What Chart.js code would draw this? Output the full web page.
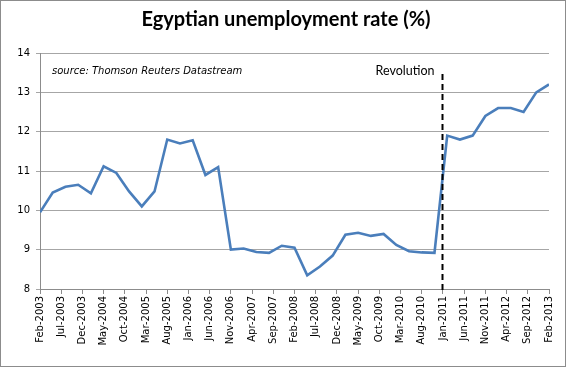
<!DOCTYPE html>
<html>
<head>
<meta charset="utf-8">
<script src="https://cdn.jsdelivr.net/npm/chart.js@4.4.0/dist/chart.umd.min.js"></script>
<style>
  html, body { margin: 0; padding: 0; background: #fff; }
  #wrap { width: 566px; height: 367px; position: relative; }
</style>
</head>
<body>
<div id="wrap"><canvas id="chart" width="566" height="367"></canvas></div>
<script>
// quarterly observations, Feb-2003 .. Feb-2013
const quarters = [
    'Feb-2003', 'May-2003', 'Aug-2003', 'Nov-2003',
    'Feb-2004', 'May-2004', 'Aug-2004', 'Nov-2004',
    'Feb-2005', 'May-2005', 'Aug-2005', 'Nov-2005',
    'Feb-2006', 'May-2006', 'Aug-2006', 'Nov-2006',
    'Feb-2007', 'May-2007', 'Aug-2007', 'Nov-2007',
    'Feb-2008', 'May-2008', 'Aug-2008', 'Nov-2008',
    'Feb-2009', 'May-2009', 'Aug-2009', 'Nov-2009',
    'Feb-2010', 'May-2010', 'Aug-2010', 'Nov-2010',
    'Feb-2011', 'May-2011', 'Aug-2011', 'Nov-2011',
    'Feb-2012', 'May-2012', 'Aug-2012', 'Nov-2012',
    'Feb-2013'
]

const unemployment = [
    9.95, 10.45, 10.6, 10.65,
    10.43, 11.12, 10.95, 10.48,
    10.1, 10.48, 11.8, 11.7,
    11.78, 10.9, 11.1, 9.0,
    9.03, 8.94, 8.92, 9.1,
    9.05, 8.35, 8.57, 8.85,
    9.38, 9.43, 9.35, 9.4,
    9.12, 8.96, 8.93, 8.92,
    11.9, 11.8, 11.9, 12.4,
    12.6, 12.6, 12.5, 13.0,
    13.2
]

// axis labels every 5 months
const tickLabels = [
    'Feb-2003', 'Jul-2003', 'Dec-2003', 'May-2004', 'Oct-2004',
    'Mar-2005', 'Aug-2005', 'Jan-2006', 'Jun-2006', 'Nov-2006',
    'Apr-2007', 'Sep-2007', 'Feb-2008', 'Jul-2008', 'Dec-2008',
    'May-2009', 'Oct-2009', 'Mar-2010', 'Aug-2010', 'Jan-2011',
    'Jun-2011', 'Nov-2011', 'Apr-2012', 'Sep-2012', 'Feb-2013'
]

const revolutionDate = 'Jan-2011'

const monthNames = ['Jan', 'Feb', 'Mar', 'Apr', 'May', 'Jun', 'Jul', 'Aug', 'Sep', 'Oct', 'Nov', 'Dec']

// months since Feb-2003
function monthIndex(label) {
    let [m, y] = label.split('-')
    return (parseInt(y) - 2003) * 12 + monthNames.indexOf(m) - 1
}

const points = quarters.map((q, i) => ({x: monthIndex(q), y: unemployment[i]}))

const extras = {
    id: 'extras',
    afterDraw(chart) {
        const ctx = chart.ctx
        const area = chart.chartArea
        ctx.save()

        // frame
        ctx.strokeStyle = '#8c8c8c'
        ctx.lineWidth = 1
        ctx.strokeRect(0.5, 0.5, 565, 366)

        // title
        ctx.fillStyle = '#000'
        ctx.font = 'bold 20px Lato'
        ctx.textAlign = 'center'
        ctx.textBaseline = 'middle'
        ctx.fillText('Egyptian unemployment rate (%)', 286, 20)

        // source note
        ctx.font = 'italic 10px "DejaVu Sans"'
        ctx.textAlign = 'left'
        ctx.fillText('source: Thomson Reuters Datastream', 52, 71)

        // revolution marker
        let x = Math.round(chart.scales.x.getPixelForValue(monthIndex(revolutionDate))) - 0.5
        ctx.strokeStyle = '#000'
        ctx.lineWidth = 2
        ctx.setLineDash([6, 4])
        ctx.beginPath()
        ctx.moveTo(x, 74)
        ctx.lineTo(x, area.bottom + 5)
        ctx.stroke()
        ctx.setLineDash([])

        ctx.font = '12.5px Lato'
        ctx.textAlign = 'right'
        ctx.fillText('Revolution', x - 8, 71)

        ctx.restore()
    }
}

new Chart(document.getElementById('chart').getContext('2d'), {
    type: 'line',
    data: {
        datasets: [{
            data: points,
            borderColor: '#4a7ebb',
            borderWidth: 2.6,
            pointRadius: 0,
            tension: 0,
            fill: false
        }]
    },
    options: {
        responsive: false,
        animation: false,
        layout: {padding: {top: 53, right: 17, left: 0, bottom: 0}},
        plugins: {legend: {display: false}, title: {display: false}, tooltip: {enabled: false}},
        scales: {
            x: {
                type: 'linear',
                min: 0,
                max: 120,
                afterFit: (s) => { s.height = 78 },
                afterBuildTicks: (s) => { s.ticks = tickLabels.map((t, i) => ({value: i * 5})) },
                grid: {drawOnChartArea: false, drawTicks: true, tickLength: 5, color: '#8c8c8c'},
                border: {color: '#8c8c8c'},
                ticks: {
                    autoSkip: false,
                    maxRotation: 90,
                    minRotation: 90,
                    padding: 2,
                    color: '#000',
                    font: {family: 'DejaVu Sans', size: 10},
                    callback: (v) => tickLabels[Math.round(v / 5)]
                }
            },
            y: {
                min: 8,
                max: 14,
                afterFit: (s) => { s.width = 40 },
                grid: {color: '#a6a6a6', lineWidth: 1, tickLength: 4},
                border: {color: '#8c8c8c'},
                ticks: {
                    stepSize: 1,
                    padding: 6,
                    color: '#000',
                    font: {family: 'DejaVu Sans', size: 10}
                }
            }
        }
    },
    plugins: [extras]
})
</script>
</body>
</html>
